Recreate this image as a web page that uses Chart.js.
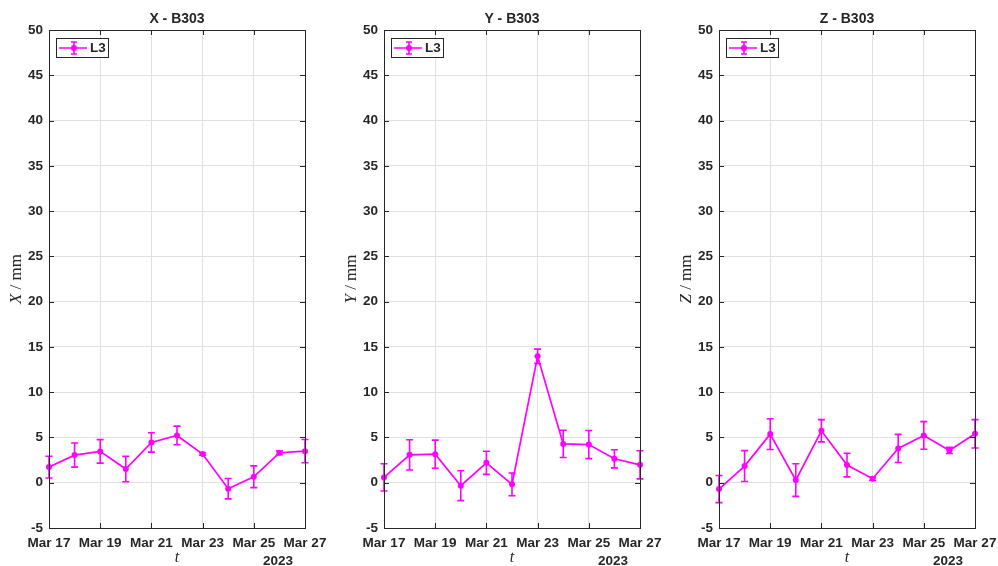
<!DOCTYPE html>
<html>
<head>
<meta charset="utf-8">
<script src="https://cdn.jsdelivr.net/npm/chart.js@4.4.1/dist/chart.umd.min.js"></script>
<style>
  html, body { margin: 0; padding: 0; background: #ffffff; }
  body { width: 998px; height: 566px; position: relative; overflow: hidden; }
  canvas { position: absolute; top: 0; }
</style>
</head>
<body>
<canvas id="c1"></canvas>
<canvas id="c2"></canvas>
<canvas id="c3"></canvas>
<script>
// ---- data ----
const days = [17, 18, 19, 20, 21, 22, 23, 24, 25, 26, 27];
const monthName = 'Mar';
const yearLabel = '2023';
const seriesName = 'L3';
const panelTitles = ['X - B303', 'Y - B303', 'Z - B303'];
const axisLetters = ['X', 'Y', 'Z'];
const unitLabel = 'mm';
const timeLabel = 't';

const xValues = [1.73, 3.05, 3.46, 1.51, 4.45, 5.22, 3.16, -0.66, 0.66, 3.31, 3.49];
const xErrors = [1.20, 1.33, 1.30, 1.40, 1.07, 1.03, 0.12, 1.12, 1.20, 0.22, 1.29];

const yValues = [0.59, 3.08, 3.15, -0.33, 2.20, -0.18, 13.96, 4.29, 4.21, 2.64, 1.98];
const yErrors = [1.50, 1.67, 1.55, 1.65, 1.28, 1.25, 0.80, 1.50, 1.55, 1.00, 1.55];

const zValues = [-0.70, 1.84, 5.37, 0.29, 5.74, 1.95, 0.44, 3.79, 5.22, 3.57, 5.40];
const zErrors = [1.50, 1.70, 1.70, 1.80, 1.23, 1.30, 0.20, 1.55, 1.53, 0.35, 1.57];

const yMin = -5, yMax = 50, yStep = 5;
const xStep = 2;

// ---- styling ----
const MAGENTA = '#ff00ff';
const AXIS_COLOR = '#262626';
const GRID_COLOR = '#e0e0e0';
const SANS = '"Liberation Sans", Arial, Helvetica, sans-serif';
const SERIF = '"Liberation Serif", "DejaVu Serif", serif';
const TICK_SIZE = 13.5;

const H = 566;
const PLOT_TOP = 30, PLOT_BOTTOM = 528;
// [canvas left, plot left, plot right, canvas right]
const geoms = [
  [0, 49, 305, 335],
  [335, 384, 640, 670],
  [670, 719, 975, 998]
];

const matlabPlugin = {
  id: 'matlab',
  afterDatasetsDraw(chart, args, o) {
    const ctx = chart.ctx;
    const xs = chart.scales.x, ys = chart.scales.y;
    ctx.save();
    ctx.strokeStyle = MAGENTA;
    ctx.lineWidth = 1.6;
    const cap = 3.5;
    o.values.forEach((v, i) => {
      const px = xs.getPixelForValue(days[i]);
      const top = ys.getPixelForValue(v + o.errors[i]);
      const bot = ys.getPixelForValue(v - o.errors[i]);
      ctx.beginPath();
      ctx.moveTo(px, top); ctx.lineTo(px, bot);
      ctx.moveTo(px - cap, top); ctx.lineTo(px + cap, top);
      ctx.moveTo(px - cap, bot); ctx.lineTo(px + cap, bot);
      ctx.stroke();
    });
    ctx.restore();
  },
  afterDraw(chart, args, o) {
    const ctx = chart.ctx;
    const a = chart.chartArea;
    const xs = chart.scales.x, ys = chart.scales.y;
    ctx.save();
    // box
    ctx.strokeStyle = AXIS_COLOR;
    ctx.lineWidth = 1;
    ctx.strokeRect(Math.round(a.left) + 0.5, Math.round(a.top) + 0.5,
                   Math.round(a.right - a.left), Math.round(a.bottom - a.top));
    // inner ticks
    const tl = 5;
    ctx.beginPath();
    xs.ticks.forEach(t => {
      const px = Math.round(xs.getPixelForValue(t.value)) + 0.5;
      ctx.moveTo(px, a.bottom); ctx.lineTo(px, a.bottom - tl);
      ctx.moveTo(px, a.top); ctx.lineTo(px, a.top + tl);
    });
    ys.ticks.forEach(t => {
      const py = Math.round(ys.getPixelForValue(t.value)) + 0.5;
      ctx.moveTo(a.left, py); ctx.lineTo(a.left + tl, py);
      ctx.moveTo(a.right, py); ctx.lineTo(a.right - tl, py);
    });
    ctx.stroke();

    // title
    ctx.fillStyle = AXIS_COLOR;
    ctx.font = 'bold 14px ' + SANS;
    ctx.textAlign = 'center';
    ctx.textBaseline = 'middle';
    ctx.fillText(o.title, (a.left + a.right) / 2, 19);

    // x label "t"
    ctx.font = 'italic 16px ' + SERIF;
    ctx.fillText(timeLabel, (a.left + a.right) / 2, 558);

    // year
    ctx.font = 'bold ' + TICK_SIZE + 'px ' + SANS;
    ctx.textAlign = 'right';
    ctx.fillText(yearLabel, a.right - 12, 561);

    // y label (rotated): italic letter + " / mm"
    ctx.save();
    ctx.translate(a.left - 32, (a.top + a.bottom) / 2);
    ctx.rotate(-Math.PI / 2);
    ctx.textBaseline = 'middle';
    ctx.textAlign = 'left';
    const f1 = 'italic 17px ' + SERIF, f2 = '17px ' + SERIF;
    ctx.font = f1; const w1 = ctx.measureText(o.letter).width;
    const rest = ' / ' + unitLabel;
    ctx.font = f2; const w2 = ctx.measureText(rest).width;
    const start = -(w1 + w2) / 2;
    ctx.font = f1; ctx.fillText(o.letter, start, 0);
    ctx.font = f2; ctx.fillText(rest, start + w1, 0);
    ctx.restore();

    // legend
    const lx = a.left + 7, ly = a.top + 8, lw = 52, lh = 19;
    ctx.fillStyle = '#ffffff';
    ctx.fillRect(lx, ly, lw, lh);
    ctx.strokeStyle = AXIS_COLOR;
    ctx.lineWidth = 1;
    ctx.strokeRect(lx + 0.5, ly + 0.5, lw, lh);
    const cy = ly + lh / 2 + 0.5;
    ctx.strokeStyle = MAGENTA;
    ctx.lineWidth = 1.6;
    ctx.beginPath();
    ctx.moveTo(lx + 3, cy); ctx.lineTo(lx + 31, cy);
    const mx = lx + 18;
    ctx.moveTo(mx, cy - 6); ctx.lineTo(mx, cy + 6);
    ctx.moveTo(mx - 3, cy - 6); ctx.lineTo(mx + 3, cy - 6);
    ctx.moveTo(mx - 3, cy + 6); ctx.lineTo(mx + 3, cy + 6);
    ctx.stroke();
    ctx.fillStyle = MAGENTA;
    ctx.beginPath(); ctx.arc(mx, cy, 3, 0, Math.PI * 2); ctx.fill();
    ctx.fillStyle = AXIS_COLOR;
    ctx.font = 'bold ' + TICK_SIZE + 'px ' + SANS;
    ctx.textAlign = 'left';
    ctx.textBaseline = 'middle';
    ctx.fillText(seriesName, lx + 34, cy + 0.5);
    ctx.restore();
  }
};

function makePanel(idx, values, errors) {
  const [cl, pl, pr, cr] = geoms[idx];
  const canvas = document.getElementById('c' + (idx + 1));
  canvas.style.left = cl + 'px';
  canvas.width = cr - cl; canvas.height = H;
  canvas.style.width = (cr - cl) + 'px'; canvas.style.height = H + 'px';
  const yAxisW = pl - cl;
  new Chart(canvas, {
    type: 'line',
    data: {
      datasets: [{
        label: seriesName,
        data: days.map((d, i) => ({ x: d, y: values[i] })),
        borderColor: MAGENTA,
        backgroundColor: MAGENTA,
        borderWidth: 1.7,
        pointRadius: 3,
        pointHoverRadius: 3,
        pointBorderWidth: 0,
        pointBackgroundColor: MAGENTA,
        tension: 0,
        clip: false
      }]
    },
    options: {
      responsive: false,
      animation: false,
      devicePixelRatio: 1,
      layout: { padding: { left: 0, top: PLOT_TOP, right: cr - pr, bottom: 0 } },
      plugins: {
        legend: { display: false },
        title: { display: false },
        tooltip: { enabled: false },
        matlab: { values, errors, title: panelTitles[idx], letter: axisLetters[idx] }
      },
      scales: {
        x: {
          type: 'linear',
          min: days[0], max: days[days.length - 1],
          border: { display: false },
          grid: { color: GRID_COLOR, lineWidth: 1, drawTicks: false },
          ticks: {
            stepSize: xStep,
            autoSkip: false, maxRotation: 0, minRotation: 0,
            padding: 7,
            color: AXIS_COLOR,
            font: { family: SANS, size: TICK_SIZE, weight: 'bold' },
            callback: v => monthName + ' ' + v
          },
          afterFit: s => { s.height = H - PLOT_BOTTOM; s.paddingLeft = 0; s.paddingRight = 0; }
        },
        y: {
          min: yMin, max: yMax,
          border: { display: false },
          grid: { color: GRID_COLOR, lineWidth: 1, drawTicks: false },
          ticks: {
            stepSize: yStep,
            padding: 6,
            color: AXIS_COLOR,
            font: { family: SANS, size: TICK_SIZE, weight: 'bold' }
          },
          afterFit: s => { s.width = yAxisW; s.paddingTop = 0; s.paddingBottom = 0; }
        }
      }
    },
    plugins: [matlabPlugin]
  });
}

makePanel(0, xValues, xErrors);
makePanel(1, yValues, yErrors);
makePanel(2, zValues, zErrors);
</script>
</body>
</html>
